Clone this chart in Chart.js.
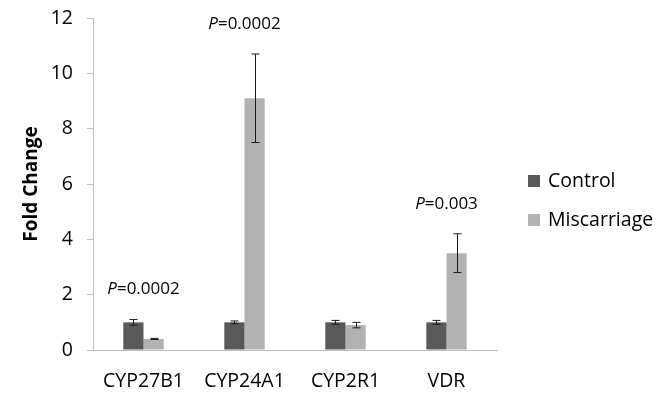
<!DOCTYPE html>
<html>
<head>
<meta charset="utf-8">
<script src="https://cdn.jsdelivr.net/npm/chart.js@4/dist/chart.umd.min.js"></script>
<style>
  html, body { margin: 0; padding: 0; background: #fff; }
  #wrap { width: 663px; height: 399px; }
</style>
</head>
<body>
<div id="wrap"><canvas id="grafico"></canvas></div>
<script>
// datos
const genes = ["CYP27B1", "CYP24A1", "CYP2R1", "VDR"];
const control = [1.0, 1.0, 1.0, 1.0];
const controlErr = [0.1, 0.05, 0.07, 0.07];
const miscarriage = [0.4, 9.1, 0.9, 3.5];
const miscarriageErr = [0.02, 1.6, 0.1, 0.7];
const pLabels = ["0.0002", "0.0002", null, "0.003"];
const yTicks = [0, 2, 4, 6, 8, 10, 12];

const FONT = "'Open Sans', 'Liberation Sans', sans-serif";

// barras de error
const errorBars = {
    id: 'errorBars',
    afterDatasetsDraw(chart) {
        const ctx = chart.ctx;
        const y = chart.scales.y;
        ctx.save();
        ctx.strokeStyle = '#1a1a1a';
        ctx.lineWidth = 1;
        chart.data.datasets.forEach((ds, i) => {
            const meta = chart.getDatasetMeta(i);
            meta.data.forEach((bar, j) => {
                const v = ds.data[j], e = ds.errors[j];
                const top = y.getPixelForValue(v + e);
                const bot = y.getPixelForValue(v - e);
                const x = Math.round(bar.x) + 0.5;
                ctx.beginPath();
                ctx.moveTo(x, top); ctx.lineTo(x, bot);
                ctx.moveTo(x - 4, top); ctx.lineTo(x + 4, top);
                ctx.moveTo(x - 4, bot); ctx.lineTo(x + 4, bot);
                ctx.stroke();
            });
        });
        ctx.restore();
    }
};

// etiquetas P sobre cada gen
const pValores = {
    id: 'pValores',
    afterDraw(chart) {
        const ctx = chart.ctx;
        const x = chart.scales.x, y = chart.scales.y;
        ctx.save();
        ctx.fillStyle = '#000';
        ctx.textBaseline = 'middle';
        pLabels.forEach((p, j) => {
            if (!p) return;
            const tope = Math.max(control[j] + controlErr[j], miscarriage[j] + miscarriageErr[j]);
            const cy = y.getPixelForValue(tope) - 30;
            const cx = x.getPixelForValue(j);
            ctx.font = 'italic 17px ' + FONT;
            const w1 = ctx.measureText('P').width;
            ctx.font = '17px ' + FONT;
            const texto = '=' + p;
            const w2 = ctx.measureText(texto).width;
            const x0 = cx - (w1 + w2) / 2;
            ctx.textAlign = 'left';
            ctx.font = 'italic 17px ' + FONT;
            ctx.fillText('P', x0, cy);
            ctx.font = '17px ' + FONT;
            ctx.fillText(texto, x0 + w1, cy);
        });
        ctx.restore();
    }
};

// leyenda a la derecha
const leyenda = {
    id: 'leyenda',
    afterDraw(chart) {
        const ctx = chart.ctx;
        ctx.save();
        ctx.font = '19.5px ' + FONT;
        ctx.textBaseline = 'middle';
        ctx.textAlign = 'left';
        chart.data.datasets.forEach((ds, i) => {
            const cy = 181 + i * 39;
            ctx.fillStyle = ds.backgroundColor;
            ctx.fillRect(528, cy - 6, 12, 12);
            ctx.fillStyle = '#000';
            ctx.fillText(ds.label, 548, cy);
        });
        ctx.restore();
    }
};

new Chart(document.getElementById('grafico'), {
    type: 'bar',
    data: {
        labels: genes,
        datasets: [
            { label: 'Control', data: control, errors: controlErr, backgroundColor: '#595959' },
            { label: 'Miscarriage', data: miscarriage, errors: miscarriageErr, backgroundColor: '#b2b2b2' }
        ]
    },
    options: {
        responsive: true,
        maintainAspectRatio: false,
        animation: false,
        categoryPercentage: 0.4,
        barPercentage: 1.0,
        layout: { padding: { top: 18, right: 166, left: 0, bottom: 0 } },
        plugins: {
            legend: { display: false },
            tooltip: { enabled: false }
        },
        scales: {
            x: {
                grid: { display: false },
                border: { display: true, color: '#bfbfbf' },
                ticks: { color: '#000', font: { family: FONT, size: 19.5 }, padding: 12 },
                afterFit(scale) { scale.height = 49; scale.paddingLeft = 0; scale.paddingRight = 0; }
            },
            y: {
                min: 0,
                max: 12,
                afterBuildTicks(scale) { scale.ticks = yTicks.map(v => ({ value: v })); },
                grid: { drawOnChartArea: false, drawTicks: true, tickLength: 6, color: '#bfbfbf' },
                border: { display: true, color: '#bfbfbf' },
                ticks: { color: '#000', font: { family: FONT, size: 19.5 }, padding: 14 },
                title: {
                    display: true,
                    text: 'Fold Change',
                    color: '#000',
                    font: { family: FONT, size: 19, weight: 'bold' },
                    padding: { top: 20, bottom: 0 }
                },
                afterFit(scale) { scale.width = 93; scale.paddingTop = 0; scale.paddingBottom = 0; }
            }
        }
    },
    plugins: [errorBars, pValores, leyenda]
});
</script>
</body>
</html>
